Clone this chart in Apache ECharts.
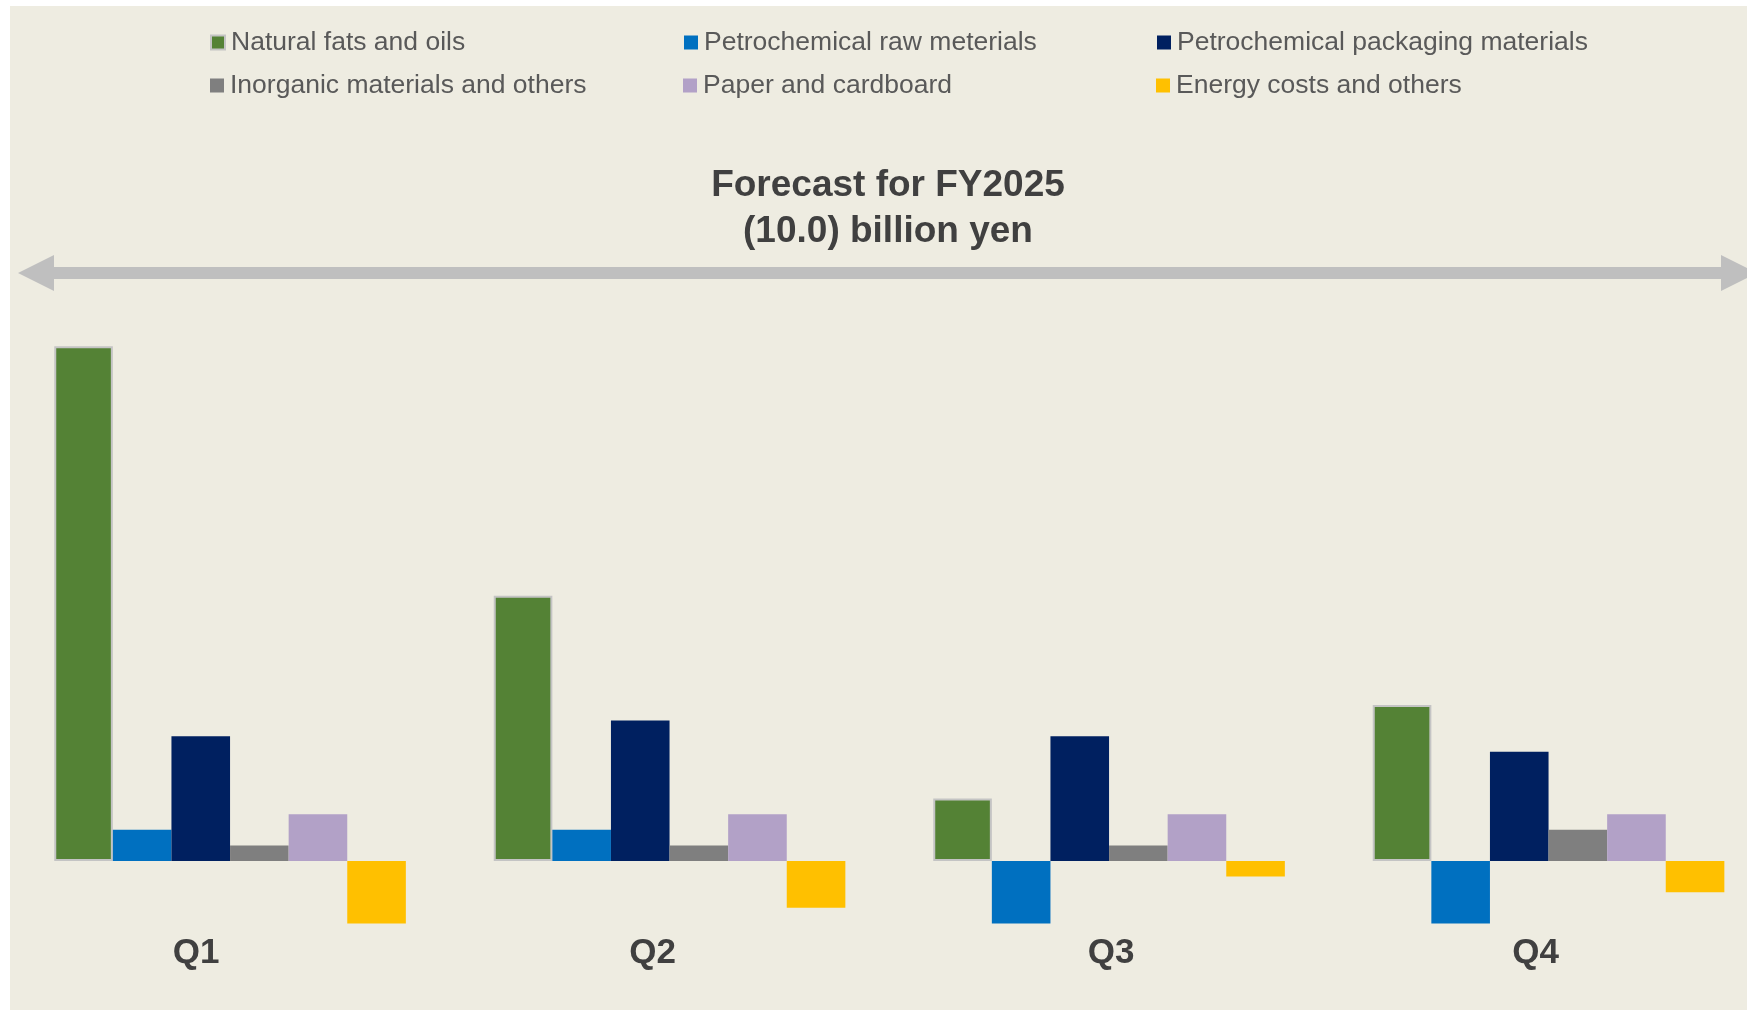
<!DOCTYPE html>
<html>
<head>
<meta charset="utf-8">
<script src="https://cdn.jsdelivr.net/npm/echarts@6/dist/echarts.min.js"></script>
<style>
  html, body { margin: 0; padding: 0; background: #ffffff; }
  #bg { position: absolute; left: 10px; top: 6px; width: 1737px; height: 1004px; background: #EEECE1; }
  #chart { position: absolute; left: 0; top: 0; width: 1747px; height: 1012px; }
</style>
</head>
<body>
<div id="bg"></div>
<div id="chart"></div>
<script>
// ---- data (billion yen, cost increase shown upward) ----
const categories = ['Q1', 'Q2', 'Q3', 'Q4'];
const seriesNames = [
  'Natural fats and oils',
  'Petrochemical raw meterials',
  'Petrochemical packaging materials',
  'Inorganic materials and others',
  'Paper and cardboard',
  'Energy costs and others'
];
const naturalFats = [3.3, 1.7, 0.4, 1.0];
const petroRaw = [0.2, 0.2, -0.4, -0.4];
const petroPackaging = [0.8, 0.9, 0.8, 0.7];
const inorganic = [0.1, 0.1, 0.1, 0.2];
const paper = [0.3, 0.3, 0.3, 0.3];
const energy = [-0.4, -0.3, -0.1, -0.2];
const titleLines = ['Forecast for FY2025', '(10.0) billion yen'];

const colors = ['#548235', '#0070C0', '#002060', '#7F7F7F', '#B2A1C7', '#FFC000'];
const values = [naturalFats, petroRaw, petroPackaging, inorganic, paper, energy];
const FONT = '"Liberation Sans", Arial, sans-serif';

const chart = echarts.init(document.getElementById('chart'), null, { renderer: 'canvas' });

const series = seriesNames.map((name, i) => ({
  name: name,
  type: 'bar',
  data: values[i],
  barGap: '0%',
  barCategoryGap: '20%',
  itemStyle: i === 0
    ? { color: colors[i], borderColor: '#C4C4C4', borderWidth: 2 }
    : { color: colors[i] },
  emphasis: { disabled: true }
}));

const legendCommon = {
  orient: 'horizontal',
  left: 210,
  padding: 0,
  itemWidth: 14,
  itemHeight: 14,
  itemGap: 0,
  icon: 'rect',
  selectedMode: false,
  textStyle: { fontFamily: FONT, fontSize: 26.5, color: '#595959', width: 453, lineHeight: 27, padding: [0, 0, 0, 1] }
};

// label offset tweaks (the reference's Q labels are not exactly centred under their groups)
const labelShift = { Q1: [0, 68, 0, 0], Q2: [0, 34, 0, 0], Q3: [0, 0, 0, 4], Q4: [0, 26, 0, 0] };
const rich = {};
categories.forEach(c => {
  rich[c] = { fontFamily: FONT, fontSize: 35, fontWeight: 'bold', color: '#404040', lineHeight: 36, padding: labelShift[c] };
});

const option = {
  backgroundColor: 'transparent',
  animation: false,
  title: {
    text: titleLines.join('\n'),
    left: 888,
    top: 163,
    padding: 0,
    textAlign: 'center',
    textVerticalAlign: 'top',
    textStyle: { fontFamily: FONT, fontSize: 37, fontWeight: 'bold', color: '#404040', lineHeight: 46 }
  },
  legend: [
    Object.assign({}, legendCommon, { top: 29, data: seriesNames.slice(0, 3) }),
    Object.assign({}, legendCommon, { top: 72, data: seriesNames.slice(3, 6) })
  ],
  grid: { left: 10.3, top: 315, width: 1758, height: 608.4, containLabel: false, outerBoundsMode: 'none' },
  xAxis: {
    type: 'category',
    data: categories,
    position: 'bottom',
    axisLine: { show: false, onZero: false },
    axisTick: { show: false },
    splitLine: { show: false },
    axisLabel: {
      margin: 12,
      formatter: v => '{' + v + '|' + v + '}',
      rich: rich
    }
  },
  yAxis: {
    type: 'value',
    min: -0.4,
    max: 3.5,
    show: false,
    splitLine: { show: false }
  },
  graphic: [
    {
      type: 'polygon',
      silent: true,
      z: 0,
      shape: {
        points: [[18, 273], [54, 255], [54, 267], [1721, 267], [1721, 255], [1757, 273],
                 [1721, 291], [1721, 279], [54, 279], [54, 291]]
      },
      style: { fill: '#BFBFBF' }
    }
  ],
  series: series
};

chart.setOption(option);
</script>
</body>
</html>
